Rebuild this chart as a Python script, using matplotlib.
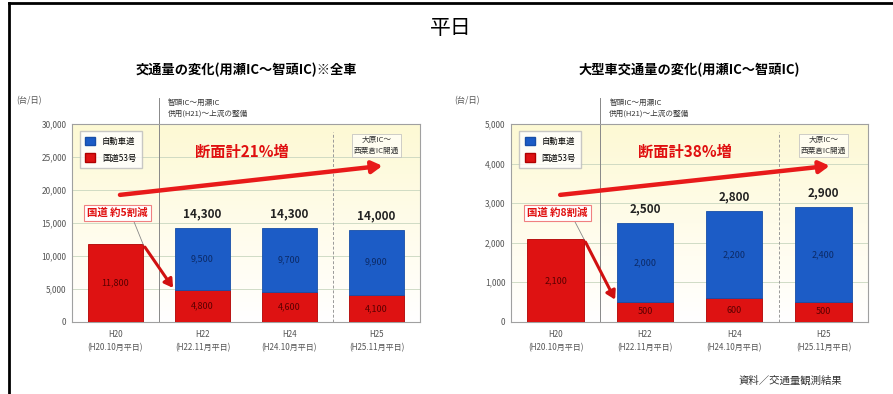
import numpy as np
import matplotlib.pyplot as plt
from matplotlib.colors import LinearSegmentedColormap
from matplotlib.lines import Line2D
from matplotlib.patches import Patch

plt.rcParams['font.family'] = ['Noto Sans CJK JP', 'DejaVu Sans']

# 調査時点
periods = ["H20\n(H20.10月平日)", "H22\n(H22.11月平日)",
           "H24\n(H24.10月平日)", "H25\n(H25.11月平日)"]

# 全車（台/日）
all_road = [11800, 4800, 4600, 4100]
all_exp = [0, 9500, 9700, 9900]

# 大型車（台/日）
big_road = [2100, 500, 600, 500]
big_exp = [0, 2000, 2200, 2400]

exp_color = "#1c5cc6"
road_color = "#de1212"

bg_cmap = LinearSegmentedColormap.from_list("bg", ["#ffffff", "#fffcea", "#fdf9d4"])


def draw_panel(ax, road, exp, ymax, step, title, rate_text, cut_text):
    x = np.arange(len(periods))
    total = [r + e for r, e in zip(road, exp)]

    # 背景（上ほど黄色い）
    grad = np.linspace(0, 1, 100).reshape(-1, 1)
    ax.imshow(grad, extent=[0, 1, 0, 1], transform=ax.transAxes, aspect='auto',
              origin='lower', cmap=bg_cmap, zorder=0)

    ax.bar(x, road, width=0.63, color=road_color, edgecolor="#b00000", lw=0.6, zorder=3)
    has_exp = [i for i in x if exp[i] > 0]
    ax.bar(x[has_exp], [exp[i] for i in has_exp], width=0.63,
           bottom=[road[i] for i in has_exp], color=exp_color, edgecolor="#174ea8",
           lw=0.6, zorder=3)

    for i in range(len(x)):
        ax.text(x[i], road[i] / 2, f"{road[i]:,}", ha='center', va='center',
                fontsize=6.5, color="#5a0000", zorder=4)
        if exp[i] > 0:
            ax.text(x[i], road[i] + exp[i] / 2, f"{exp[i]:,}", ha='center', va='center',
                    fontsize=6.5, color="#0c2a66", zorder=4)
            ax.text(x[i], total[i] + ymax * 0.07, f"{total[i]:,}", ha='center', va='center',
                    fontsize=8.5, fontweight='bold', color="#222222", zorder=4)

    ax.set_xlim(-0.5, 3.5)
    ax.set_ylim(0, ymax)
    ax.set_yticks(np.arange(0, ymax + 1, step))
    ax.set_yticklabels([f"{v:,}" for v in np.arange(0, ymax + 1, step)])
    ax.set_xticks(x)
    ax.set_xticklabels(periods, fontsize=5.8, color="#555555", linespacing=1.5)
    ax.tick_params(axis='y', labelsize=6, colors="#555555", length=0, pad=4)
    ax.tick_params(axis='x', length=0, pad=6)
    ax.grid(axis='y', color="#c9d6bf", lw=0.6, zorder=1)
    for s in ax.spines.values():
        s.set_color("#a0a0a0")
        s.set_linewidth(0.8)

    ax.text(-0.16, 1.115, "(台/日)", transform=ax.transAxes, fontsize=6,
            color="#555555", ha='left', va='center')
    ax.set_title(title, fontsize=9.5, fontweight='bold', pad=36)

    # 供用区間の区切り線
    ax.plot([0.5, 0.5], [0, ymax * 1.13], color="#888888", lw=0.7, clip_on=False, zorder=2)
    ax.text(0.6, ymax * 1.08, "智頭IC〜用瀬IC\n供用(H21)〜上流の整備", fontsize=5.5,
            color="#333333", ha='left', va='center', linespacing=1.4)
    ax.plot([2.5, 2.5], [0, ymax * 0.96], color="#999999", lw=0.7, ls=(0, (3, 2)), zorder=2)
    ax.text(3.0, ymax * 0.89, "大原IC〜\n西粟倉IC開通", fontsize=5.5, color="#333333",
            ha='center', va='center', linespacing=1.4,
            bbox=dict(boxstyle='square,pad=0.3', fc="#fffdf0", ec="#bbbbbb", lw=0.5))

    # 断面交通量の伸び
    ax.annotate("", xy=(3.1, ymax * 0.79), xytext=(0.02, ymax * 0.64),
                arrowprops=dict(arrowstyle='-|>,head_length=0.6,head_width=0.35',
                                color="#e81a1a", lw=3.2), zorder=5)
    ax.text(1.45, ymax * 0.86, rate_text, fontsize=11, fontweight='bold',
            color="#e01010", ha='center', va='center', zorder=5)

    # 国道の減少
    ax.annotate("", xy=(0.68, road[1] * 1.0), xytext=(0.32, road[0] * 0.99),
                arrowprops=dict(arrowstyle='-|>,head_length=0.5,head_width=0.3',
                                color="#d01010", lw=2.2), zorder=5)
    ax.plot([0.2, 0.32], [ymax * 0.52, road[0] * 0.99], color="#888888", lw=0.6, zorder=5)
    ax.text(0.02, ymax * 0.55, cut_text, fontsize=7.5, fontweight='bold', color="#e01010",
            ha='center', va='center', zorder=6, clip_on=False,
            bbox=dict(boxstyle='square,pad=0.3', fc="#ffffff", ec="#f08080", lw=0.8))

    ax.legend(handles=[Patch(fc=exp_color, ec="#174ea8", label="自動車道"),
                       Patch(fc=road_color, ec="#b00000", label="国道53号")],
              loc='upper left', fontsize=6, frameon=True, edgecolor="#bbbbbb",
              fancybox=False, handlelength=1.2, handleheight=1.2, labelspacing=0.9,
              borderpad=0.7, bbox_to_anchor=(0.01, 0.985))


fig = plt.figure(figsize=(8.93, 3.94), dpi=100)

ax1 = fig.add_axes([0.0806, 0.183, 0.3897, 0.5025])
ax2 = fig.add_axes([0.5722, 0.183, 0.400, 0.5025])

draw_panel(ax1, all_road, all_exp, 30000, 5000,
           "交通量の変化(用瀬IC〜智頭IC)※全車", "断面計21%増", "国道 約5割減")
draw_panel(ax2, big_road, big_exp, 5000, 1000,
           "大型車交通量の変化(用瀬IC〜智頭IC)", "断面計38%増", "国道 約8割減")

fig.text(0.505, 0.93, "平日", fontsize=15, ha='center', va='center')
fig.text(0.885, 0.035, "資料／交通量観測結果", fontsize=7.5, ha='center', va='center',
         color="#333333")

# 外枠
fig.add_artist(Line2D([0.010, 1.0], [0.992, 0.992], color="black", lw=2))
fig.add_artist(Line2D([0.010, 0.010], [0.0, 0.992], color="black", lw=2))

fig.savefig("out.png", dpi=100)
